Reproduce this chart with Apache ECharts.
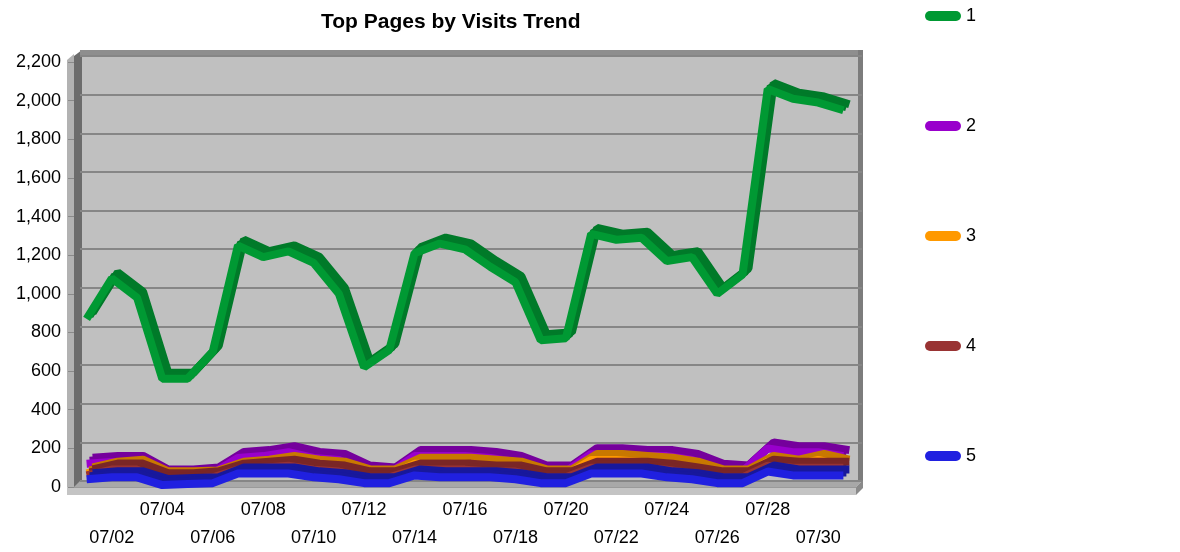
<!DOCTYPE html>
<html>
<head>
<meta charset="utf-8">
<script src="https://cdn.jsdelivr.net/npm/echarts@6/dist/echarts.min.js"></script>
<style>
  html, body { margin: 0; padding: 0; background: #fff; }
  #chart { width: 1180px; height: 552px; }
</style>
</head>
<body>
<div id="chart"></div>
<script>
// days of July
const days = ['07/01', '07/02', '07/03', '07/04', '07/05', '07/06', '07/07', '07/08', '07/09', '07/10',
  '07/11', '07/12', '07/13', '07/14', '07/15', '07/16', '07/17', '07/18', '07/19', '07/20',
  '07/21', '07/22', '07/23', '07/24', '07/25', '07/26', '07/27', '07/28', '07/29', '07/30', '07/31']

const page1 = [870, 1080, 980, 560, 560, 700, 1250, 1190, 1220, 1160, 1000, 620, 710, 1210, 1260, 1230,
  1140, 1060, 760, 770, 1310, 1280, 1290, 1170, 1190, 1000, 1100, 2060, 2010, 1990, 1950]
const page2 = [120, 130, 130, 60, 60, 70, 150, 160, 180, 150, 140, 80, 70, 160, 160, 160,
  150, 130, 80, 80, 170, 170, 160, 160, 140, 90, 80, 200, 180, 180, 160]
const page3 = [70, 100, 110, 50, 50, 55, 100, 110, 130, 110, 100, 60, 60, 120, 120, 120,
  110, 100, 60, 60, 140, 140, 130, 120, 100, 60, 60, 130, 110, 140, 110]
const page4 = [60, 90, 90, 40, 40, 50, 90, 100, 110, 90, 80, 50, 50, 90, 90, 90,
  80, 80, 50, 50, 100, 100, 100, 90, 70, 50, 50, 110, 100, 100, 100]
const page5 = [40, 50, 50, 10, 15, 20, 70, 70, 70, 50, 40, 20, 20, 60, 50, 50,
  50, 40, 20, 20, 70, 70, 70, 50, 40, 20, 20, 80, 60, 60, 60]

const names = ['1', '2', '3', '4', '5']
const values = [page1, page2, page3, page4, page5]
const colors = ['#009933', '#9900cc', '#ff9900', '#993333', '#2020e0']
const darkColors = ['#007a29', '#75009c', '#c87800', '#7a2626', '#18189c']

const labelFont = 'Liberation Sans, Arial, sans-serif'
const pill = 'path://M5,0 L31,0 A5,5 0 0 1 31,10 L5,10 A5,5 0 0 1 5,0 Z'

// ribbon: back edge (grid 1), middle (grid 2) in dark, front face (grid 0) in light
const series = []
names.forEach((n, i) => {
  [1, 2].forEach((g) => {
    series.push({
      name: n + ' top' + g,
      type: 'line',
      xAxisIndex: g,
      yAxisIndex: g,
      data: values[i],
      symbol: 'none',
      lineStyle: { color: darkColors[i], width: 8 },
      itemStyle: { color: darkColors[i] },
      z: 2 + i * 2
    })
  })
  series.push({
    name: n,
    type: 'line',
    xAxisIndex: 0,
    yAxisIndex: 0,
    data: values[i],
    symbol: 'none',
    lineStyle: { color: colors[i], width: 8 },
    itemStyle: { color: colors[i] },
    z: 3 + i * 2
  })
})

const oddIdx = (index) => index % 2 === 1
const hiddenY = (g) => ({
  type: 'value', gridIndex: g, min: 0, max: 2200, interval: 200,
  axisLine: { show: false }, axisTick: { show: false }, axisLabel: { show: false },
  splitLine: { show: g === 1, lineStyle: { color: '#868686', width: 2 } }
})

const option = {
  animation: false,
  title: {
    text: 'Top Pages by Visits Trend',
    left: 316,
    top: 7,
    textStyle: { fontFamily: labelFont, fontSize: 21, fontWeight: 'bold', color: '#000' }
  },
  legend: {
    data: names,
    orient: 'vertical',
    left: 920,
    top: 2,
    itemWidth: 36,
    itemHeight: 10,
    itemGap: 92,
    icon: pill,
    textStyle: { fontFamily: labelFont, fontSize: 18, lineHeight: 18, color: '#000' }
  },
  grid: [
    { left: 74, top: 62, width: 782, height: 425 },
    { left: 80, top: 56, width: 782, height: 425, show: true, backgroundColor: '#c0c0c0', borderWidth: 0 },
    { left: 77, top: 59, width: 782, height: 425 }
  ],
  xAxis: [
    {
      type: 'category',
      gridIndex: 0,
      data: days,
      boundaryGap: true,
      axisLine: { lineStyle: { color: '#9a9a9a', width: 1 } },
      axisTick: { alignWithLabel: true, interval: oddIdx, length: 8, lineStyle: { color: '#7a7a7a' } },
      axisLabel: {
        interval: oddIdx,
        margin: 9,
        fontFamily: labelFont,
        fontSize: 18,
        lineHeight: 28,
        color: '#000',
        formatter: (value, index) => (index % 4 === 1 ? '\n' + value : value)
      },
      splitLine: { show: false }
    },
    { type: 'category', gridIndex: 1, data: days, boundaryGap: true, show: false },
    { type: 'category', gridIndex: 2, data: days, boundaryGap: true, show: false }
  ],
  yAxis: [
    {
      type: 'value',
      gridIndex: 0,
      min: 0,
      max: 2200,
      interval: 200,
      axisLine: { show: false },
      axisTick: { show: true, length: 6, lineStyle: { color: '#8a8a8a' } },
      axisLabel: {
        margin: 13,
        fontFamily: labelFont,
        fontSize: 18,
        color: '#000',
        formatter: (v) => v.toLocaleString('en-US')
      },
      splitLine: { show: false }
    },
    hiddenY(1),
    hiddenY(2)
  ],
  graphic: [
    // left wall
    { type: 'polygon', shape: { points: [[67, 60], [74, 54], [74, 495], [67, 495]] }, style: { fill: '#b2b2b2' }, z: 0 },
    { type: 'polygon', shape: { points: [[74, 56], [82, 50], [82, 481], [74, 488]] }, style: { fill: '#6c6c6c' }, z: 0 },
    // top edge
    { type: 'rect', shape: { x: 80, y: 50, width: 782, height: 5 }, style: { fill: '#8e8e8e' }, z: 0 },
    // right edge
    { type: 'rect', shape: { x: 858, y: 50, width: 5, height: 432 }, style: { fill: '#7c7c7c' }, z: 0 },
    // floor
    { type: 'polygon', shape: { points: [[74, 487], [80, 481], [862, 481], [856, 487]] }, style: { fill: '#a8a8a8' }, z: 0 },
    { type: 'rect', shape: { x: 67, y: 487, width: 789, height: 8 }, style: { fill: '#c4c4c4' }, z: 0 },
    { type: 'polygon', shape: { points: [[856, 487], [863, 480], [863, 488], [856, 495]] }, style: { fill: '#8a8a8a' }, z: 0 }
  ],
  series: series
}

const chart = echarts.init(document.getElementById('chart'))
chart.setOption(option)
</script>
</body>
</html>
